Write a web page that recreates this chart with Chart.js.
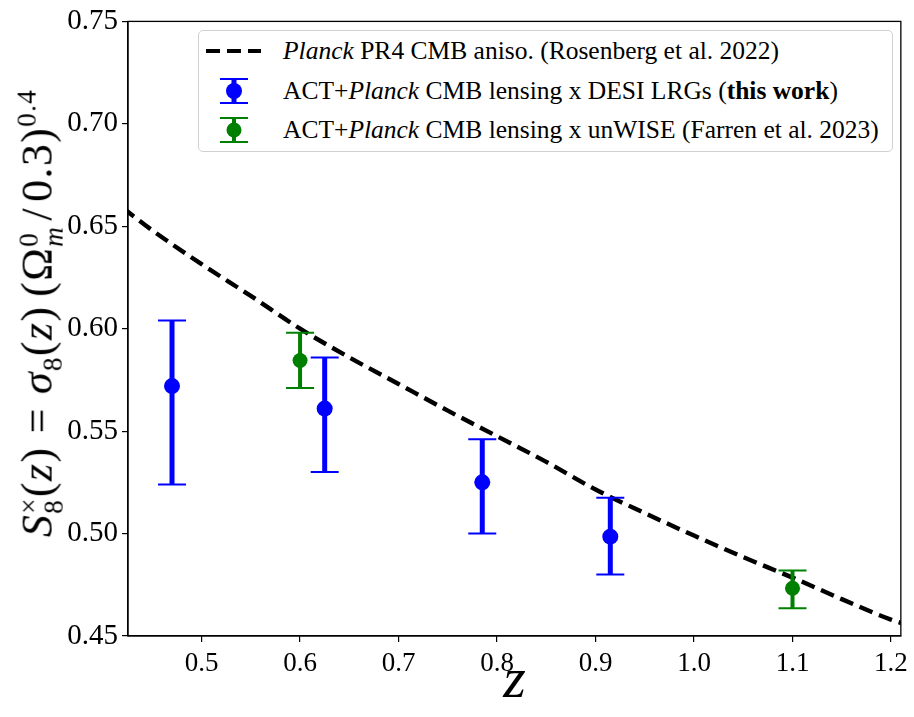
<!DOCTYPE html>
<html>
<head>
<meta charset="utf-8">
<script src="https://cdn.jsdelivr.net/npm/chart.js@4"></script>
<style>
  html, body { margin: 0; padding: 0; background: #fff; }
  #wrap { position: relative; width: 914px; height: 717px; }
  #ytitle {
    position: absolute; left: 40px; top: 313px;
    transform: translate(-50%, -50%) rotate(-90deg);
    white-space: nowrap; font-family: 'Liberation Serif', serif; font-size: 44px; letter-spacing: 0.03em; color: #000;
  }
  .st { display: inline-block; vertical-align: middle; line-height: 0.9; font-size: 0.62em; text-align: left; }
  .st span { display: block; }
  .sp { display: inline-block; }
  #legend {
    position: absolute; left: 198px; top: 30px; width: 695px; height: 122px;
    border: 1.5px solid #d0d0d0; border-radius: 5px; background: #fff; box-sizing: border-box;
    font-family: 'Liberation Serif', serif; font-size: 25.5px; color: #000;
  }
  .row { position: absolute; left: 0; height: 30px; display: flex; align-items: center; white-space: nowrap; }
  .row svg { width: 80px; height: 30px; margin-right: 4px; }
</style>
</head>
<body>
<div id="wrap">
  <canvas id="c" width="914" height="717"></canvas>
  <div id="ytitle"><i>S</i><span class="st"><span>&times;</span><span>8</span></span>(<i>z</i>)<span class="sp" style="margin:0 0.3em">=</span><i>&sigma;</i><sub style="font-size:0.62em">8</sub>(<i>z</i>)<span class="sp" style="margin-left:0.2em">(</span>&Omega;<span class="st"><span>0</span><span><i>m</i></span></span><span class="sp" style="margin:0 0.12em">/</span>0.3)<sup style="font-size:0.62em">0.4</sup></div>
  <div id="legend">
    <div class="row" style="top:5px">
      <svg viewBox="0 0 80 30"><line x1="7" y1="15" x2="62" y2="15" stroke="#000" stroke-width="4" stroke-dasharray="14 7"/></svg>
      <span><i>Planck</i> PR4 CMB aniso. (Rosenberg et al. 2022)</span>
    </div>
    <div class="row" style="top:45px">
      <svg viewBox="0 0 80 30"><line x1="35" y1="3" x2="35" y2="27" stroke="#0000ff" stroke-width="5"/><line x1="21" y1="3" x2="49" y2="3" stroke="#0000ff" stroke-width="2"/><line x1="21" y1="27" x2="49" y2="27" stroke="#0000ff" stroke-width="2"/><circle cx="35" cy="15" r="8" fill="#0000ff"/></svg>
      <span>ACT+<i>Planck</i> CMB lensing x DESI LRGs (<b>this work</b>)</span>
    </div>
    <div class="row" style="top:84px">
      <svg viewBox="0 0 80 30"><line x1="35" y1="3" x2="35" y2="27" stroke="#008000" stroke-width="4"/><line x1="21" y1="3" x2="49" y2="3" stroke="#008000" stroke-width="2"/><line x1="21" y1="27" x2="49" y2="27" stroke="#008000" stroke-width="2"/><circle cx="35" cy="15" r="7.5" fill="#008000"/></svg>
      <span>ACT+<i>Planck</i> CMB lensing x unWISE (Farren et al. 2023)</span>
    </div>
  </div>
</div>
<script>
// DESI LRG cross-correlation (this work)
const lrgZ = [0.47, 0.625, 0.785, 0.915];
const lrgS8 = [0.572, 0.561, 0.525, 0.4985];
const lrgLo = [0.524, 0.530, 0.500, 0.480];
const lrgHi = [0.604, 0.586, 0.546, 0.5175];

// unWISE (Farren et al. 2023)
const unwiseZ = [0.6, 1.1];
const unwiseS8 = [0.5845, 0.4733];
const unwiseLo = [0.571, 0.4635];
const unwiseHi = [0.598, 0.482];

// Planck PR4 prediction
const planckZ = [0.42, 0.45, 0.5, 0.55, 0.6, 0.65, 0.7, 0.75, 0.8, 0.85, 0.9, 0.95, 1.0, 1.05, 1.1, 1.15, 1.2, 1.22];
const planckS8 = [0.659, 0.648, 0.6315, 0.616, 0.6, 0.586, 0.573, 0.56, 0.5475, 0.535, 0.5215, 0.51, 0.499, 0.4885, 0.4785, 0.468, 0.458, 0.455];

const xTicks = [0.5, 0.6, 0.7, 0.8, 0.9, 1.0, 1.1, 1.2];
const yTicks = [0.45, 0.5, 0.55, 0.6, 0.65, 0.7, 0.75];

const serif = "'Liberation Serif', serif";

function toPoints(xs, ys) {
  return xs.map((x, i) => ({ x: x, y: ys[i] }));
}

function drawErrors(chart, xs, lo, hi, color, width) {
  const ctx = chart.ctx;
  const xs_ = chart.scales.x;
  const ys_ = chart.scales.y;
  ctx.save();
  ctx.strokeStyle = color;
  for (let i = 0; i < xs.length; i++) {
    const px = xs_.getPixelForValue(xs[i]);
    const top = ys_.getPixelForValue(hi[i]);
    const bot = ys_.getPixelForValue(lo[i]);
    ctx.lineWidth = width;
    ctx.beginPath();
    ctx.moveTo(px, top);
    ctx.lineTo(px, bot);
    ctx.stroke();
    ctx.lineWidth = 2;
    ctx.beginPath();
    ctx.moveTo(px - 14, top);
    ctx.lineTo(px + 14, top);
    ctx.moveTo(px - 14, bot);
    ctx.lineTo(px + 14, bot);
    ctx.stroke();
  }
  ctx.restore();
}

const errorBars = {
  id: 'errorBars',
  afterDatasetDraw(chart, args) {
    // draw after the dashed line, before the markers
    if (args.index !== 2) return;
    drawErrors(chart, lrgZ, lrgLo, lrgHi, '#0000ff', 5);
    drawErrors(chart, unwiseZ, unwiseLo, unwiseHi, '#008000', 4);
  },
  afterDraw(chart) {
    const a = chart.chartArea;
    const ctx = chart.ctx;
    ctx.save();
    ctx.strokeStyle = '#000';
    ctx.lineWidth = 1.3;
    ctx.strokeRect(a.left, a.top, a.right - a.left, a.bottom - a.top);
    ctx.restore();
  }
};

new Chart(document.getElementById('c'), {
  type: 'scatter',
  data: {
    datasets: [
      { data: toPoints(lrgZ, lrgS8), backgroundColor: '#0000ff', borderWidth: 0, pointRadius: 8 },
      { data: toPoints(unwiseZ, unwiseS8), backgroundColor: '#008000', borderWidth: 0, pointRadius: 7.5 },
      {
        data: toPoints(planckZ, planckS8),
        showLine: true,
        borderColor: '#000',
        borderWidth: 4.4,
        borderDash: [14, 7],
        pointRadius: 0,
        cubicInterpolationMode: 'monotone',
      },
    ],
  },
  options: {
    responsive: false,
    animation: false,
    devicePixelRatio: 1,
    layout: { padding: { top: 18, right: 10, left: 0, bottom: 0 } },
    plugins: { legend: { display: false }, tooltip: { enabled: false } },
    scales: {
      x: {
        type: 'linear',
        min: 0.4253,
        max: 1.21,
        afterBuildTicks: s => { s.ticks = xTicks.map(v => ({ value: v })); },
        afterFit: s => { s.height = 81; },
        ticks: { color: '#000', font: { family: serif, size: 27 }, padding: 6, maxRotation: 0, callback: v => v.toFixed(1) },
        grid: { display: true, drawOnChartArea: false, drawTicks: true, tickLength: 6, color: '#000', lineWidth: 1.2 },
        border: { display: true, color: '#000', width: 1.3 },
        title: { display: true, text: 'z', color: '#000', font: { family: serif, size: 58, style: 'italic' }, padding: { top: -6, bottom: 0 } },
      },
      y: {
        type: 'linear',
        min: 0.45,
        max: 0.75,
        afterBuildTicks: s => { s.ticks = yTicks.map(v => ({ value: v })); },
        afterFit: s => { s.width = 128; },
        ticks: { color: '#000', font: { family: serif, size: 29 }, padding: 4, callback: v => v.toFixed(2) },
        grid: { display: true, drawOnChartArea: false, drawTicks: true, tickLength: 6, color: '#000', lineWidth: 1.2 },
        border: { display: true, color: '#000', width: 1.3 },
      },
    },
  },
  plugins: [errorBars],
});
</script>
</body>
</html>
